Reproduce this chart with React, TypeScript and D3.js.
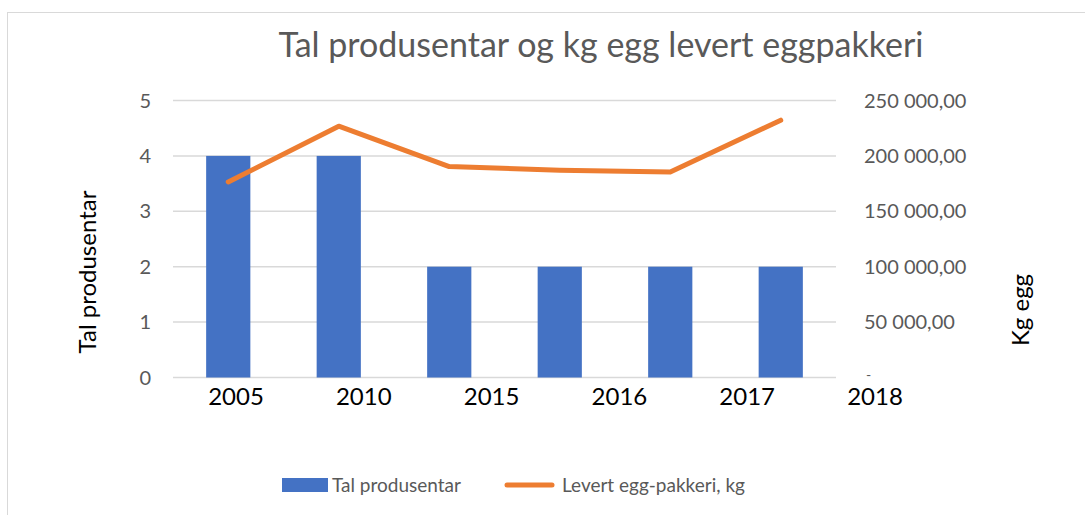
import { useEffect, useRef } from "react"
import * as d3 from "d3"

const categories = ["2005", "2010", "2015", "2016", "2017", "2018"]
const producers = [4, 4, 2, 2, 2, 2]
const eggKg = [176500, 226800, 190400, 187000, 185500, 232200]
const leftTicks = [0, 1, 2, 3, 4, 5]
const rightTicks = [0, 50000, 100000, 150000, 200000, 250000]

const FONT = "Lato, 'Open Sans', sans-serif"

export default function App() {
  const svgRef = useRef<SVGSVGElement>(null)

  useEffect(() => {
    if (!svgRef.current) return
    const svg = d3.select(svgRef.current)
    svg.selectAll("*").remove()

    const width = 1085
    const height = 515
    const plot = { left: 173, right: 836, top: 100.5, bottom: 377.5 }

    svg.append("rect").attr("width", width).attr("height", height).attr("fill", "#fff")

    // chart border
    svg
      .append("rect")
      .attr("x", 7.5)
      .attr("y", 12.5)
      .attr("width", width + 20)
      .attr("height", height + 20)
      .attr("fill", "none")
      .attr("stroke", "#d9d9d9")
      .attr("stroke-width", 1)

    const x = d3.scaleBand().domain(categories).range([plot.left, plot.right]).paddingInner(0.6).paddingOuter(0.3)
    const xLabel = d3.scalePoint().domain(categories).range([236, 875])
    const yLeft = d3.scaleLinear().domain([0, 5]).range([plot.bottom, plot.top])
    const yRight = d3.scaleLinear().domain([0, 250000]).range([plot.bottom, plot.top])

    const loc = d3.formatLocale({ decimal: ",", thousands: " ", grouping: [3], currency: ["", ""] })
    const fmt = loc.format(",.2f")

    // Title
    svg
      .append("text")
      .attr("x", 601)
      .attr("y", 57)
      .attr("text-anchor", "middle")
      .attr("font-family", FONT)
      .attr("font-size", 34)
      .attr("fill", "#595959")
      .text("Tal produsentar og kg egg levert eggpakkeri")

    // gridlines
    svg
      .append("g")
      .selectAll("line")
      .data(leftTicks)
      .enter()
      .append("line")
      .attr("x1", plot.left)
      .attr("x2", plot.right)
      .attr("y1", (d) => yLeft(d))
      .attr("y2", (d) => yLeft(d))
      .attr("stroke", "#d9d9d9")
      .attr("stroke-width", 1.5)

    // bars
    svg
      .append("g")
      .selectAll("rect")
      .data(producers)
      .enter()
      .append("rect")
      .attr("x", (_d, i) => x(categories[i])!)
      .attr("width", x.bandwidth())
      .attr("y", (d) => yLeft(d))
      .attr("height", (d) => yLeft(0) - yLeft(d))
      .attr("fill", "#4472c4")

    // line
    const line = d3
      .line<number>()
      .x((_d, i) => x(categories[i])! + x.bandwidth() / 2)
      .y((d) => yRight(d))
    svg
      .append("path")
      .datum(eggKg)
      .attr("d", line)
      .attr("fill", "none")
      .attr("stroke", "#ed7d31")
      .attr("stroke-width", 5)
      .attr("stroke-linecap", "round")
      .attr("stroke-linejoin", "round")

    // left axis labels
    svg
      .append("g")
      .selectAll("text")
      .data(leftTicks)
      .enter()
      .append("text")
      .attr("x", 151)
      .attr("y", (d) => yLeft(d))
      .attr("dy", "0.35em")
      .attr("text-anchor", "end")
      .attr("font-family", FONT)
      .attr("font-size", 20)
      .attr("fill", "#595959")
      .text((d) => d)

    // right axis labels
    svg
      .append("g")
      .selectAll("text")
      .data(rightTicks)
      .enter()
      .append("text")
      .attr("x", (d) => (d === 0 ? 866 : 864))
      .attr("y", (d) => (d === 0 ? yRight(d) + 2 : yRight(d)))
      .attr("dy", (d) => (d === 0 ? "0" : "0.35em"))
      .attr("text-anchor", "start")
      .attr("font-family", FONT)
      .attr("font-size", (d) => (d === 0 ? 14 : 20))
      .attr("fill", "#595959")
      .text((d) => (d === 0 ? "-" : fmt(d)))

    // x axis labels
    svg
      .append("g")
      .selectAll("text")
      .data(categories)
      .enter()
      .append("text")
      .attr("x", (d) => xLabel(d)!)
      .attr("y", 405)
      .attr("text-anchor", "middle")
      .attr("font-family", FONT)
      .attr("font-size", 24)
      .attr("fill", "#000")
      .text((d) => d)

    // axis titles
    svg
      .append("text")
      .attr("transform", "translate(96, 272) rotate(-90)")
      .attr("text-anchor", "middle")
      .attr("font-family", FONT)
      .attr("font-size", 24)
      .attr("fill", "#000")
      .text("Tal produsentar")

    svg
      .append("text")
      .attr("transform", "translate(1029, 310) rotate(-90)")
      .attr("text-anchor", "middle")
      .attr("font-family", FONT)
      .attr("font-size", 24)
      .attr("fill", "#000")
      .text("Kg egg")

    // legend
    const legend = svg.append("g").attr("font-family", FONT).attr("font-size", 19).attr("fill", "#595959")
    legend.append("rect").attr("x", 282).attr("y", 478).attr("width", 46).attr("height", 14).attr("fill", "#4472c4")
    legend.append("text").attr("x", 332).attr("y", 485).attr("dy", "0.35em").text("Tal produsentar")
    legend
      .append("line")
      .attr("x1", 507)
      .attr("x2", 552)
      .attr("y1", 485)
      .attr("y2", 485)
      .attr("stroke", "#ed7d31")
      .attr("stroke-width", 5)
      .attr("stroke-linecap", "round")
    legend.append("text").attr("x", 562).attr("y", 485).attr("dy", "0.35em").text("Levert egg-pakkeri, kg")
  }, [])

  return (
    <svg
      ref={svgRef}
      width={1085}
      height={515}
      style={{ position: "absolute", left: 0, top: 0, display: "block" }}
    />
  )
}
